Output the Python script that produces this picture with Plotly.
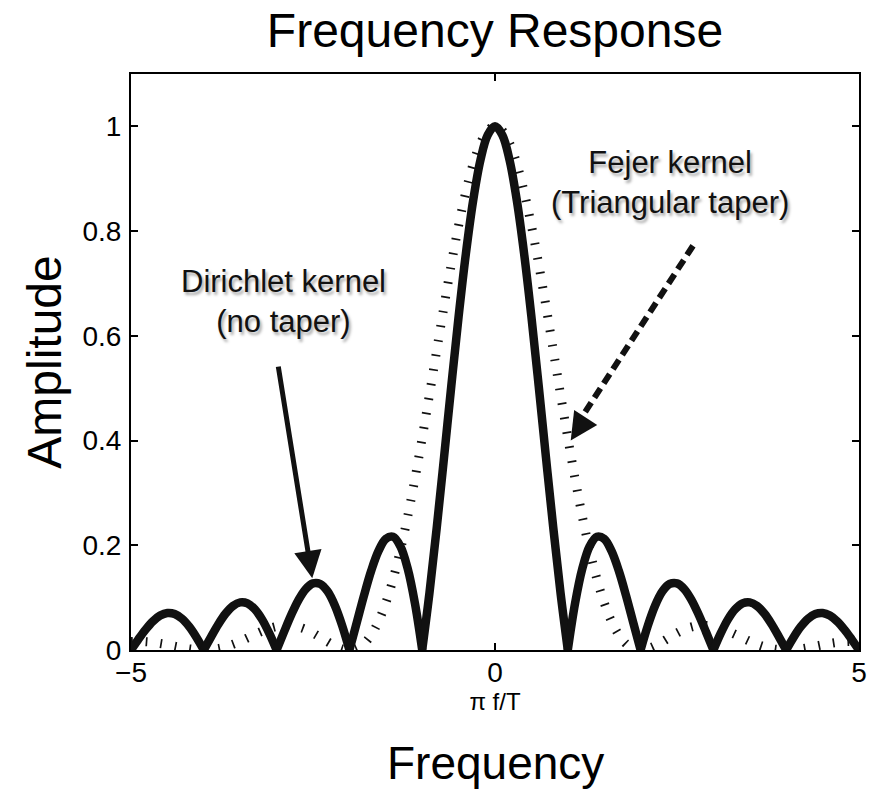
import numpy as np
import plotly.graph_objects as go

# sample grid, pi f / T from -5 to 5
freq = np.round(np.linspace(-5, 5, 101), 1)

# |Dirichlet kernel| (rectangular window, no taper)
dirichlet = [
    0.0, 0.0201, 0.0390, 0.0548, 0.0658, 0.0707, 0.0688, 0.0599, 0.0446, 0.0240,
    0.0, 0.0252, 0.0492, 0.0696, 0.0841, 0.0909, 0.0890, 0.0780, 0.0585, 0.0317,
    0.0, 0.0339, 0.0668, 0.0954, 0.1164, 0.1273, 0.1261, 0.1120, 0.0850, 0.0468,
    0.0, 0.0518, 0.1039, 0.1515, 0.1892, 0.2122, 0.2162, 0.1981, 0.1559, 0.0894,
    0.0, 0.1093, 0.2339, 0.3679, 0.5046, 0.6366, 0.7568, 0.8584, 0.9355, 0.9836,
    1.0,
    0.9836, 0.9355, 0.8584, 0.7568, 0.6366, 0.5046, 0.3679, 0.2339, 0.1093, 0.0,
    0.0894, 0.1559, 0.1981, 0.2162, 0.2122, 0.1892, 0.1515, 0.1039, 0.0518, 0.0,
    0.0468, 0.0850, 0.1120, 0.1261, 0.1273, 0.1164, 0.0954, 0.0668, 0.0339, 0.0,
    0.0317, 0.0585, 0.0780, 0.0890, 0.0909, 0.0841, 0.0696, 0.0492, 0.0252, 0.0,
    0.0240, 0.0446, 0.0599, 0.0688, 0.0707, 0.0658, 0.0548, 0.0390, 0.0201, 0.0,
]

# Fejer kernel (triangular taper)
fejer = [
    0.0162, 0.0165, 0.0159, 0.0146, 0.0125, 0.0100, 0.0072, 0.0045, 0.0022, 0.0006,
    0.0, 0.0007, 0.0027, 0.0061, 0.0108, 0.0165, 0.0230, 0.0296, 0.0358, 0.0411,
    0.0450, 0.0470, 0.0468, 0.0441, 0.0392, 0.0324, 0.0243, 0.0158, 0.0080, 0.0023,
    0.0, 0.0028, 0.0119, 0.0289, 0.0547, 0.0901, 0.1353, 0.1904, 0.2546, 0.3268,
    0.4053, 0.4881, 0.5728, 0.6566, 0.7368, 0.8106, 0.8751, 0.9281, 0.9675, 0.9918,
    1.0,
    0.9918, 0.9675, 0.9281, 0.8751, 0.8106, 0.7368, 0.6566, 0.5728, 0.4881, 0.4053,
    0.3268, 0.2546, 0.1904, 0.1353, 0.0901, 0.0547, 0.0289, 0.0119, 0.0028, 0.0,
    0.0023, 0.0080, 0.0158, 0.0243, 0.0324, 0.0392, 0.0441, 0.0468, 0.0470, 0.0450,
    0.0411, 0.0358, 0.0296, 0.0230, 0.0165, 0.0108, 0.0061, 0.0027, 0.0007, 0.0,
    0.0006, 0.0022, 0.0045, 0.0072, 0.0100, 0.0125, 0.0146, 0.0159, 0.0165, 0.0162,
]

# indices of the Dirichlet nulls; each lobe is drawn between two of them
lobe_edges = [0, 10, 20, 30, 40, 60, 70, 80, 90, 100]

x_ticks = [-5, 0, 5]
y_ticks = [0, 0.2, 0.4, 0.6, 0.8, 1]
y_tick_labels = ["0", "0.2", "0.4", "0.6", "0.8", "1"]

FONT = "Arial, Liberation Sans, Helvetica, sans-serif"
INK = "#111111"
SHADOW = "2px 3px 3px rgba(0,0,0,0.35)"

fig = go.Figure()

# Fejer kernel: very short, wide dashes give a row of small hatch marks
fig.add_trace(go.Scatter(
    x=freq, y=fejer, mode="lines", line_shape="spline",
    line=dict(color=INK, width=9, dash="1.7px,13px"),
    hoverinfo="skip", showlegend=False,
))

# Dirichlet kernel: heavy solid line, smooth lobes with sharp nulls
for a, b in zip(lobe_edges[:-1], lobe_edges[1:]):
    fig.add_trace(go.Scatter(
        x=freq[a:b + 1], y=dirichlet[a:b + 1], mode="lines", line_shape="spline",
        line=dict(color=INK, width=8.5),
        hoverinfo="skip", showlegend=False,
    ))

# dashed arrow shaft towards the Fejer curve
fig.add_shape(type="line", xref="x", yref="y",
              x0=2.72, y0=0.772, x1=1.17, y1=0.44,
              line=dict(color=INK, width=6, dash="11px,6px"))

annotations = [
    # arrow to the Dirichlet side lobe
    dict(x=-2.51, y=0.137, ax=-2.98, ay=0.544, xref="x", yref="y",
         axref="x", ayref="y", text="", showarrow=True,
         arrowhead=2, arrowsize=1.1, arrowwidth=5, arrowcolor=INK, standoff=0),
    # arrowhead at the end of the dashed shaft
    dict(x=1.04, y=0.40, ax=13, ay=-20, xref="x", yref="y",
         text="", showarrow=True,
         arrowhead=2, arrowsize=1.0, arrowwidth=5.5, arrowcolor=INK, standoff=0),
    dict(x=-2.90, y=0.666, xref="x", yref="y", showarrow=False,
         text="Dirichlet kernel<br>(no taper)",
         font=dict(family=FONT, size=31, color=INK, shadow=SHADOW)),
    dict(x=2.40, y=0.893, xref="x", yref="y", showarrow=False,
         text="Fejer kernel<br>(Triangular taper)",
         font=dict(family=FONT, size=31, color=INK, shadow=SHADOW)),
    # outer axis label
    dict(x=0.5, y=-0.196, xref="paper", yref="paper", yanchor="middle",
         showarrow=False, text="Frequency",
         font=dict(family=FONT, size=46, color="#000")),
]

fig.update_layout(
    width=879, height=792,
    margin=dict(l=131, r=16, t=74, b=142),
    paper_bgcolor="white", plot_bgcolor="white",
    font=dict(family=FONT, color="#000"),
    title=dict(text="Frequency Response", x=0.5, xanchor="center", xref="paper",
               y=1 - 30 / 792, yanchor="middle", yref="container",
               font=dict(family=FONT, size=48, color="#000")),
    annotations=annotations,
    xaxis=dict(
        range=[-5, 5], tickvals=x_ticks, ticktext=["\u22125", "0", "5"],
        ticks="inside", ticklen=7, tickwidth=1.5, tickcolor="#000",
        showline=True, linecolor="#000", linewidth=2, mirror="ticks",
        showgrid=False, zeroline=False,
        tickfont=dict(family=FONT, size=28, color="#000"),
        ticklabelstandoff=-4,
        title=dict(text="\u03c0 f/T", standoff=0,
                   font=dict(family=FONT, size=24, color="#000")),
    ),
    yaxis=dict(
        range=[0, 1.1], tickvals=y_ticks, ticktext=y_tick_labels,
        ticks="inside", ticklen=7, tickwidth=1.5, tickcolor="#000",
        showline=True, linecolor="#000", linewidth=2, mirror="ticks",
        showgrid=False, zeroline=False,
        tickfont=dict(family=FONT, size=28, color="#000"),
        ticklabelstandoff=2,
        title=dict(text="Amplitude", standoff=6,
                   font=dict(family=FONT, size=48, color="#000")),
    ),
)

fig.write_html("out.html")
